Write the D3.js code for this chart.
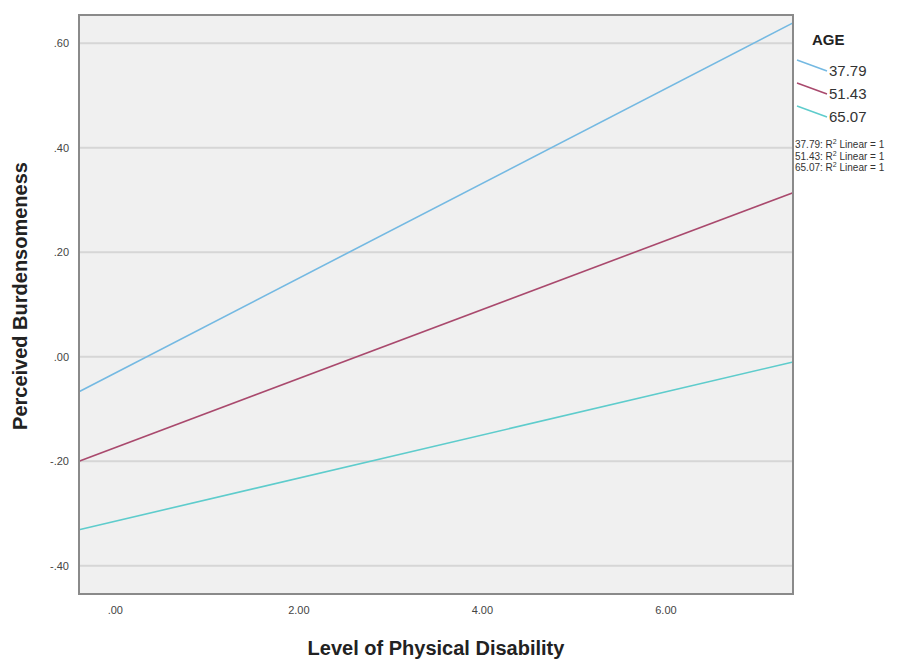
<!DOCTYPE html>
<html lang="en">
<head>
    <meta charset="UTF-8">
    <title>Perceived Burdensomeness by Physical Disability and Age</title>
    <style>
        body { margin: 0; background: #fff; }
        text { font-family: "Liberation Sans", Arial, sans-serif; }
    </style>
</head>
<body>
    <script src="https://cdn.jsdelivr.net/npm/d3@7"></script>
    <script>
        // data
        var ages = ['37.79', '51.43', '65.07'],
            xEnds = [-0.39, 7.39],
            low = [-0.067, 0.639],   // age 37.79
            mid = [-0.200, 0.314],   // age 51.43
            high = [-0.331, -0.010], // age 65.07
            xTicks = [0, 2, 4, 6],
            yTicks = [-0.4, -0.2, 0, 0.2, 0.4, 0.6];

        var series = [low, mid, high],
            colors = ['#74b9e2', '#a9496d', '#5ecccc'];

        var width = 916, height = 661,
            plot = {left: 79, right: 793, top: 15, bottom: 594};

        var svg = d3.select('body').append('svg')
            .attr('width', width)
            .attr('height', height);

        var x = d3.scaleLinear()
            .domain([-0.39, 7.39])
            .range([plot.left, plot.right]);
        var y = d3.scaleLinear()
            .domain([-0.454, 0.654])
            .range([plot.bottom, plot.top]);

        // plot background
        svg.append('rect')
            .attr('x', plot.left).attr('y', plot.top)
            .attr('width', plot.right - plot.left)
            .attr('height', plot.bottom - plot.top)
            .attr('fill', '#f0f0f0');

        // gridlines
        svg.selectAll('.grid')
            .data(yTicks)
            .enter()
            .append('line')
            .attr('x1', plot.left).attr('x2', plot.right)
            .attr('y1', function(d) { return y(d); })
            .attr('y2', function(d) { return y(d); })
            .attr('stroke', '#d6d6d6')
            .attr('stroke-width', 2);

        // SPSS style numbers: .60, -.20
        var fmt = function(d) {
            return (d < 0 ? '-' : '') + Math.abs(d).toFixed(2).replace(/^0\./, '.');
        };
        var yAxis = svg.append('g')
            .attr('transform', 'translate(' + (plot.left - 10) + ',0)')
            .call(d3.axisLeft(y).tickValues(yTicks).tickSize(0).tickPadding(0).tickFormat(fmt));
        var xAxis = svg.append('g')
            .attr('transform', 'translate(0,' + (plot.bottom + 12) + ')')
            .call(d3.axisBottom(x).tickValues(xTicks).tickSize(0).tickPadding(0).tickFormat(fmt));
        [xAxis, yAxis].forEach(function(a) {
            a.select('.domain').remove();
            a.selectAll('text')
                .attr('fill', '#444')
                .style('font-size', '11px')
                .style('font-family', '"Liberation Sans", Arial, sans-serif');
        });
        xAxis.selectAll('text').attr('dy', '0.71em');

        // regression lines
        var line = d3.line()
            .x(function(d, i) { return x(xEnds[i]); })
            .y(function(d) { return y(d); });
        svg.selectAll('.fit')
            .data(series)
            .enter()
            .append('path')
            .attr('d', function(d) { return line(d); })
            .attr('fill', 'none')
            .attr('stroke', function(d, i) { return colors[i]; })
            .attr('stroke-width', 1.6);

        // plot frame
        svg.append('rect')
            .attr('x', plot.left).attr('y', plot.top)
            .attr('width', plot.right - plot.left)
            .attr('height', plot.bottom - plot.top)
            .attr('fill', 'none')
            .attr('stroke', '#8a8a8a')
            .attr('stroke-width', 2);

        // axis titles
        svg.append('text')
            .attr('x', x(3.5))
            .attr('y', 655)
            .attr('text-anchor', 'middle')
            .style('font-size', '20px')
            .style('font-weight', 'bold')
            .attr('fill', '#222')
            .text('Level of Physical Disability');
        svg.append('text')
            .attr('transform', 'translate(27,' + 296 + ') rotate(-90)')
            .attr('text-anchor', 'middle')
            .style('font-size', '20px')
            .style('font-weight', 'bold')
            .attr('fill', '#222')
            .text('Perceived Burdensomeness');

        // legend
        var legend = svg.append('g');
        legend.append('text')
            .attr('x', 812).attr('y', 45)
            .style('font-size', '15px')
            .style('font-weight', 'bold')
            .attr('fill', '#222')
            .text('AGE');
        var item = legend.selectAll('.item')
            .data(ages)
            .enter()
            .append('g')
            .attr('transform', function(d, i) { return 'translate(0,' + (i * 23) + ')'; });
        item.append('line')
            .attr('x1', 797).attr('y1', 60)
            .attr('x2', 827).attr('y2', 71)
            .attr('stroke', function(d, i) { return colors[i]; })
            .attr('stroke-width', 1.5);
        item.append('text')
            .attr('x', 829).attr('y', 76)
            .style('font-size', '15px')
            .attr('fill', '#333')
            .text(function(d) { return d; });

        // fit notes
        var note = legend.selectAll('.note')
            .data(ages)
            .enter()
            .append('text')
            .attr('x', 795)
            .attr('y', function(d, i) { return 148 + i * 11.5; })
            .style('font-size', '10px')
            .attr('fill', '#333');
        note.append('tspan').text(function(d) { return d + ': R'; });
        note.append('tspan').attr('dy', -4).style('font-size', '7px').text('2');
        note.append('tspan').attr('dy', 4).text(' Linear = 1');
    </script>
</body>
</html>
